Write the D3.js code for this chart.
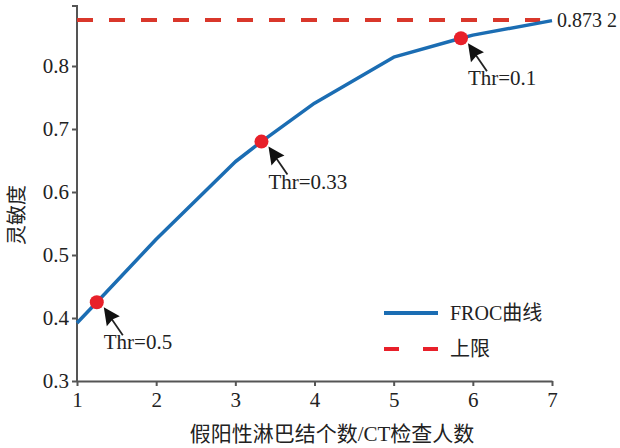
<!DOCTYPE html>
<html>
<head>
<meta charset="utf-8">
<script src="https://cdn.jsdelivr.net/npm/d3@7"></script>
<style>
  body { margin: 0; background: #fff; }
  text { font-family: "Liberation Serif", "Noto Sans CJK SC", serif; fill: #222; }
</style>
</head>
<body>
<script>
// FROC curve data
var fpPerScan = [1, 1.25, 2, 3, 3.33, 4, 5, 5.85, 6, 7];
var sensitivity = [0.392, 0.425, 0.525, 0.648, 0.68, 0.741, 0.814, 0.844, 0.849, 0.872];
var upperLimit = 0.8732;
var upperLabel = "0.873 2";
var thrX = [1.25, 3.33, 5.85];
var thrY = [0.425, 0.68, 0.844];
var thrLabels = ["Thr=0.5", "Thr=0.33", "Thr=0.1"];
var xTicks = [1, 2, 3, 4, 5, 6, 7];
var yTicks = [0.3, 0.4, 0.5, 0.6, 0.7, 0.8];
var seriesNames = ["FROC曲线", "上限"];

var width = 620, height = 448;
var plotLeft = 77, plotRight = 552, plotTop = 6, plotBottom = 381;

var svg = d3.select("body").append("svg")
  .attr("width", width)
  .attr("height", height);

var xScale = d3.scaleLinear().domain([1, 7]).range([plotLeft, plotRight]);
var yScale = d3.scaleLinear().domain([0.3, 0.3 + (plotBottom - plotTop) / 630]).range([plotBottom, plotTop]);

var xAxis = d3.axisBottom(xScale).tickValues(xTicks).tickSize(5).tickSizeOuter(0).tickPadding(6)
  .tickFormat(d3.format("d"));
var yAxis = d3.axisLeft(yScale).tickValues(yTicks).tickSize(5).tickSizeOuter(0).tickPadding(3)
  .tickFormat(d3.format(".1f"));

var gx = svg.append("g").attr("transform", `translate(0, ${plotBottom})`).call(xAxis);
var gy = svg.append("g").attr("transform", `translate(${plotLeft}, 0)`).call(yAxis);
// extend the y axis line to the top
gy.select(".domain").attr("d", `M-5,${plotTop}H0V${plotBottom}`);
[gx, gy].forEach(function (g) {
  g.select(".domain").attr("stroke", "#555").attr("stroke-width", 2);
  g.selectAll(".tick line").attr("stroke", "#555").attr("stroke-width", 2);
  g.selectAll(".tick text").style("font-family", "Liberation Serif").attr("font-size", 21).attr("fill", "#222");
});

// upper limit dashed line
svg.append("line")
  .attr("x1", xScale(1)).attr("x2", xScale(6.85))
  .attr("y1", yScale(upperLimit)).attr("y2", yScale(upperLimit))
  .attr("stroke", "#d9372b").attr("stroke-width", 4)
  .attr("stroke-dasharray", "16,16");

// FROC curve
var line = d3.line()
  .x(function (d, i) { return xScale(fpPerScan[i]); })
  .y(function (d) { return yScale(d); });
svg.append("path")
  .datum(sensitivity)
  .attr("d", line)
  .attr("fill", "none")
  .attr("stroke", "#1b6db3")
  .attr("stroke-width", 3.5)
  .attr("stroke-linejoin", "round");

svg.append("text")
  .attr("x", xScale(7) + 5).attr("y", yScale(upperLimit) + 7)
  .attr("font-size", 20)
  .text(upperLabel);

// threshold markers with arrows
thrX.forEach(function (tx, i) {
  var cx = xScale(tx), cy = yScale(thrY[i]);
  svg.append("circle").attr("cx", cx).attr("cy", cy).attr("r", 7).attr("fill", "#e8202a");
  var ax = cx + 7, ay = cy + 5;
  svg.append("line")
    .attr("x1", ax + 8).attr("y1", ay + 12)
    .attr("x2", ax + 19).attr("y2", ay + 28)
    .attr("stroke", "#222").attr("stroke-width", 1.8);
  svg.append("path")
    .attr("d", `M${ax},${ay}L${ax + 16},${ay + 9}L${ax + 9},${ay + 12}L${ax + 3},${ay + 19}Z`)
    .attr("fill", "#111");
  svg.append("text")
    .attr("x", cx + 7).attr("y", cy + 47)
    .attr("font-size", 21)
    .text(thrLabels[i]);
});

// legend
var legend = svg.append("g").attr("transform", "translate(384, 313)");
legend.append("line").attr("x1", 0).attr("x2", 54).attr("y1", 0).attr("y2", 0)
  .attr("stroke", "#1b6db3").attr("stroke-width", 4);
legend.append("line").attr("x1", 0).attr("x2", 54).attr("y1", 36).attr("y2", 36)
  .attr("stroke", "#e8202a").attr("stroke-width", 4).attr("stroke-dasharray", "15,24");
seriesNames.forEach(function (name, i) {
  legend.append("text")
    .attr("x", 66).attr("y", i * 36 + 7)
    .attr("font-size", 20)
    .text(name);
});

// axis titles
svg.append("text")
  .attr("x", 332).attr("y", 441)
  .attr("text-anchor", "middle")
  .attr("font-size", 21)
  .attr("fill", "#333")
  .text("假阳性淋巴结个数/CT检查人数");

svg.append("text")
  .attr("transform", "translate(24, 215) rotate(-90)")
  .attr("text-anchor", "middle")
  .attr("font-size", 20)
  .attr("fill", "#333")
  .text("灵敏度");
</script>
</body>
</html>
